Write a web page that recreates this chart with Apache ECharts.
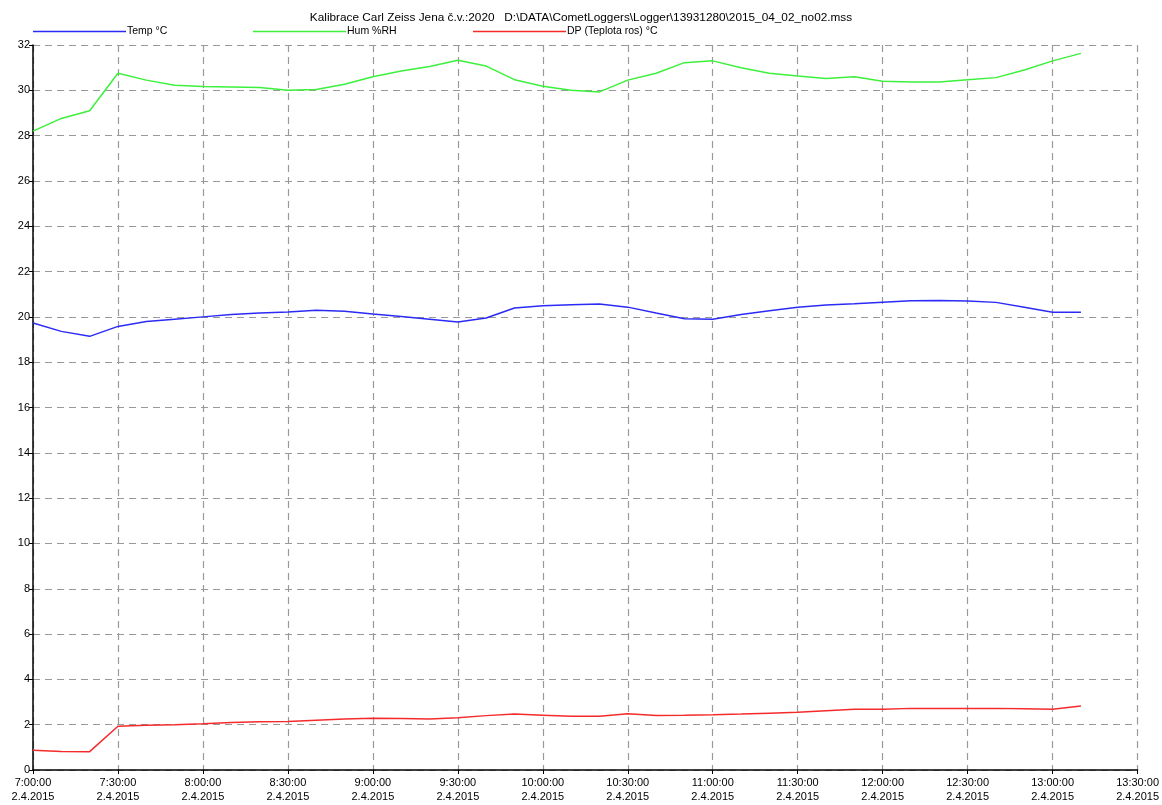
<!DOCTYPE html>
<html>
<head>
<meta charset="utf-8">
<script src="https://cdn.jsdelivr.net/npm/echarts@6/dist/echarts.min.js"></script>
<style>
html,body{margin:0;padding:0;background:#fff;}
#chart{width:1162px;height:805px;}
</style>
</head>
<body>
<div id="chart"></div>
<script>
const titleText = 'Kalibrace Carl Zeiss Jena č.v.:2020   D:\\DATA\\CometLoggers\\Logger\\13931280\\2015_04_02_no02.mss';
const dateLabel = '2.4.2015';
const times = ['7:00','7:10','7:20','7:30','7:40','7:50','8:00','8:10','8:20','8:30','8:40','8:50',
  '9:00','9:10','9:20','9:30','9:40','9:50','10:00','10:10','10:20','10:30','10:40','10:50',
  '11:00','11:10','11:20','11:30','11:40','11:50','12:00','12:10','12:20','12:30','12:40','12:50',
  '13:00','13:10'];
const tempC = [19.73,19.36,19.14,19.58,19.8,19.9,20.0,20.1,20.17,20.21,20.29,20.25,
  20.13,20.02,19.9,19.77,19.95,20.39,20.49,20.54,20.57,20.43,20.17,19.92,
  19.9,20.1,20.27,20.42,20.52,20.58,20.65,20.71,20.72,20.7,20.64,20.42,
  20.2,20.2];
const humRH = [28.2,28.76,29.1,30.75,30.45,30.22,30.17,30.15,30.12,30.0,30.04,30.27,
  30.6,30.85,31.05,31.33,31.07,30.47,30.18,30.0,29.93,30.45,30.75,31.22,
  31.3,31.0,30.75,30.63,30.52,30.6,30.4,30.37,30.37,30.47,30.56,30.9,
  31.3,31.63];
const dewPoint = [0.87,0.82,0.81,1.93,1.97,2.0,2.04,2.1,2.13,2.14,2.2,2.25,
  2.28,2.27,2.25,2.31,2.4,2.47,2.42,2.37,2.37,2.48,2.41,2.42,
  2.44,2.47,2.51,2.55,2.62,2.68,2.68,2.72,2.72,2.72,2.72,2.7,
  2.68,2.82];
const seriesNames = ['Temp °C','Hum %RH','DP (Teplota ros) °C'];
const seriesColors = ['#2b2bf5','#3cf03c','#f52b2b'];

function toMin(t){const p=t.split(':');return (+p[0])*60+(+p[1]);}
const xs = times.map(toMin);
function pairs(arr){return arr.map((v,i)=>[xs[i],v]);}
function fmt(m){const h=Math.floor(m/60), mm=m%60;return h+':'+(mm<10?'0':'')+mm+':00';}

const font = 'Liberation Sans, Arial, sans-serif';
const chart = echarts.init(document.getElementById('chart'));
const legendLefts = [33,253,473];
chart.setOption({
  animation:false,
  backgroundColor:'#fff',
  title:{text:titleText,left:'center',top:12,padding:0,textStyle:{fontFamily:font,fontSize:11.8,fontWeight:'normal',color:'#000'}},
  legend: seriesNames.map((n,i)=>({
    data:[{name:n,icon:'rect'}],left:legendLefts[i],top:26,padding:0,itemWidth:93,itemHeight:1.5,itemGap:0,
    textStyle:{fontFamily:font,fontSize:10.5,color:'#000',padding:[0,0,0,-4]}
  })),
  grid:{left:33,right:23,top:45,bottom:35,containLabel:false},
  xAxis:{type:'value',min:420,max:810,interval:30,
    axisLine:{show:true,onZero:false,lineStyle:{color:'#000',width:1.5}},
    axisTick:{show:true,length:4,lineStyle:{color:'#000'}},
    axisLabel:{fontFamily:font,fontSize:11,color:'#000',margin:6,lineHeight:14,
      formatter:v=>fmt(v)+'\n'+dateLabel},
    splitLine:{show:true,lineStyle:{color:'#999',type:[7,5],width:1.2}}},
  yAxis:{type:'value',min:0,max:32,interval:2,
    axisLine:{show:true,onZero:false,lineStyle:{color:'#000',width:1.5}},
    axisTick:{show:true,length:4,lineStyle:{color:'#000'}},
    axisLabel:{fontFamily:font,fontSize:11,color:'#000',margin:3},
    splitLine:{show:true,lineStyle:{color:'#999',type:[7,5],width:1.2}}},
  series:[tempC,humRH,dewPoint].map((d,i)=>({
    name:seriesNames[i],type:'line',data:pairs(d),showSymbol:false,
    lineStyle:{color:seriesColors[i],width:1.5},itemStyle:{color:seriesColors[i]}
  }))
});
</script>
</body>
</html>
